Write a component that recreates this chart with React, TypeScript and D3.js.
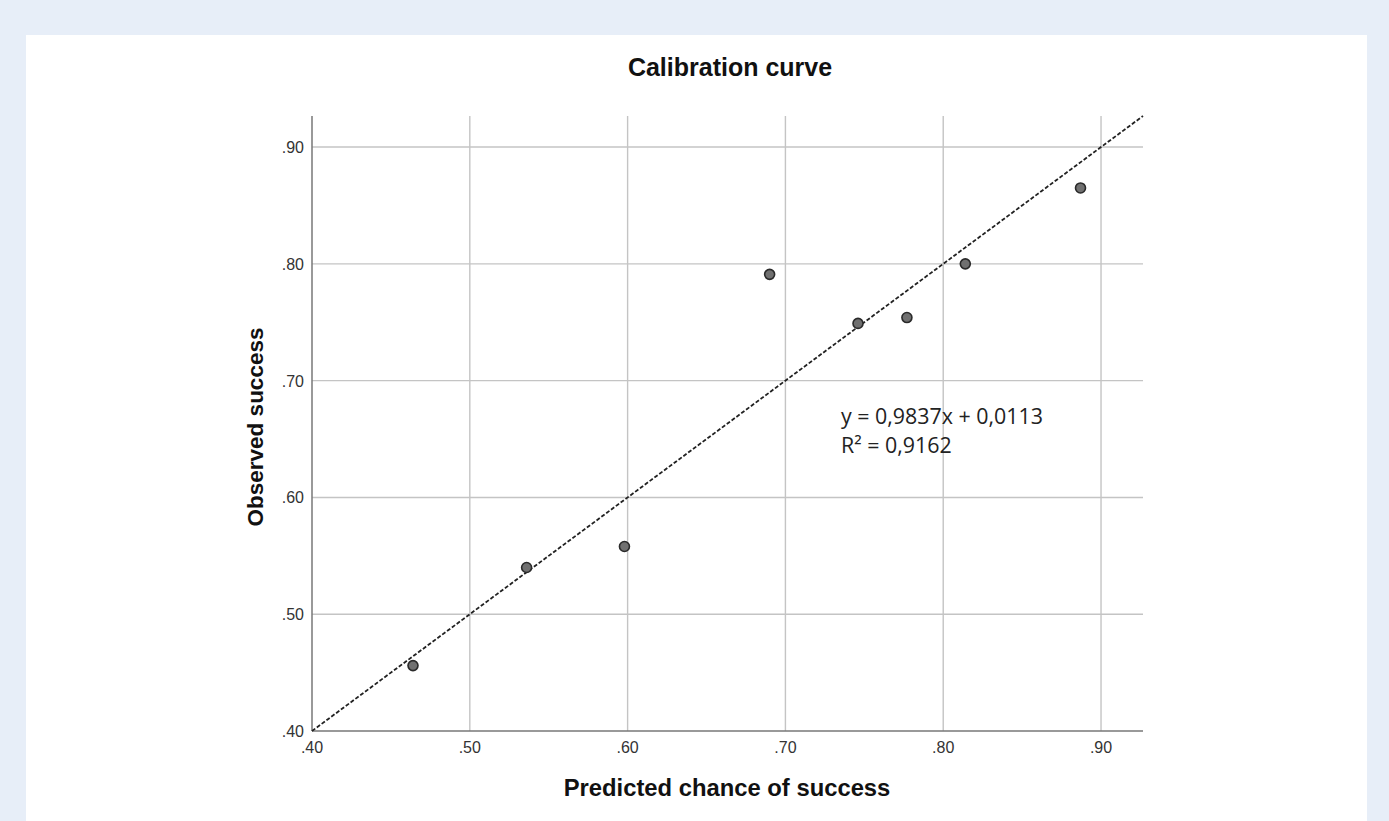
import React from "react";
import * as d3 from "d3";

const predicted = [0.464, 0.536, 0.598, 0.690, 0.746, 0.777, 0.814, 0.887];
const observed = [0.456, 0.540, 0.558, 0.791, 0.749, 0.754, 0.800, 0.865];
const tickValues = [0.4, 0.5, 0.6, 0.7, 0.8, 0.9];
const tickLabels = [".40", ".50", ".60", ".70", ".80", ".90"];
const domainMin = 0.4;
const domainMax = 0.9266;
const equationLines = ["y = 0,9837x + 0,0113", "R² = 0,9162"];

const W = 1389;
const H = 821;
const plot = { left: 312, right: 1143, top: 116, bottom: 731 };

export default function App() {
  const x = d3.scaleLinear().domain([domainMin, domainMax]).range([plot.left, plot.right]);
  const y = d3.scaleLinear().domain([domainMin, domainMax]).range([plot.bottom, plot.top]);
  const line = d3.line<number>().x((d) => x(d)).y((d) => y(d));
  const tickFont = "'Liberation Sans', Arial, sans-serif";

  return (
    <svg
      width={W}
      height={H}
      style={{ position: "fixed", left: 0, top: 0, display: "block" }}
    >
      <rect x={0} y={0} width={W} height={H} fill="#e7eef8" />
      <rect x={26} y={35} width={1341} height={H - 35} fill="#ffffff" />

      <text
        x={730}
        y={76}
        textAnchor="middle"
        fontFamily={tickFont}
        fontWeight="bold"
        fontSize={25}
        fill="#111"
      >
        Calibration curve
      </text>

      {/* grid lines */}
      {tickValues.slice(1).map((t) => (
        <line
          key={"gx" + t}
          x1={x(t)}
          x2={x(t)}
          y1={plot.top}
          y2={plot.bottom}
          stroke="#c4c4c4"
          strokeWidth={1.4}
        />
      ))}
      {tickValues.slice(1).map((t) => (
        <line
          key={"gy" + t}
          x1={plot.left}
          x2={plot.right}
          y1={y(t)}
          y2={y(t)}
          stroke="#c4c4c4"
          strokeWidth={1.4}
        />
      ))}

      {/* axes */}
      <line x1={plot.left} x2={plot.left} y1={plot.top} y2={plot.bottom} stroke="#777" strokeWidth={1.5} />
      <line x1={plot.left} x2={plot.right} y1={plot.bottom} y2={plot.bottom} stroke="#777" strokeWidth={1.5} />

      {tickValues.map((t, i) => (
        <text
          key={"tx" + t}
          x={x(t)}
          y={plot.bottom + 22}
          textAnchor="middle"
          fontFamily={tickFont}
          fontSize={16}
          fill="#333"
        >
          {tickLabels[i]}
        </text>
      ))}
      {tickValues.map((t, i) => (
        <text
          key={"ty" + t}
          x={plot.left - 8}
          y={y(t) + 6}
          textAnchor="end"
          fontFamily={tickFont}
          fontSize={16}
          fill="#333"
        >
          {tickLabels[i]}
        </text>
      ))}

      {/* fit line */}
      <path
        d={line([domainMin, domainMax]) || ""}
        stroke="#222"
        strokeWidth={1.8}
        strokeDasharray="4,2"
        fill="none"
      />

      {predicted.map((p, i) => (
        <circle
          key={"pt" + i}
          cx={x(p)}
          cy={y(observed[i])}
          r={5}
          fill="#707070"
          stroke="#2a2a2a"
          strokeWidth={1.6}
        />
      ))}

      <text
        x={841}
        y={424}
        fontFamily="'Open Sans', 'Noto Sans', sans-serif"
        fontSize={21.4}
        fill="#222"
      >
        {equationLines[0]}
      </text>
      <text
        x={841}
        y={453}
        fontFamily="'Open Sans', 'Noto Sans', sans-serif"
        fontSize={21.4}
        fill="#222"
      >
        {equationLines[1]}
      </text>

      <text
        x={727}
        y={796}
        textAnchor="middle"
        fontFamily={tickFont}
        fontWeight="bold"
        fontSize={23.8}
        fill="#111"
      >
        Predicted chance of success
      </text>
      <text
        transform="translate(263,427) rotate(-90)"
        textAnchor="middle"
        fontFamily={tickFont}
        fontWeight="bold"
        fontSize={22.5}
        fill="#111"
      >
        Observed success
      </text>
    </svg>
  );
}
